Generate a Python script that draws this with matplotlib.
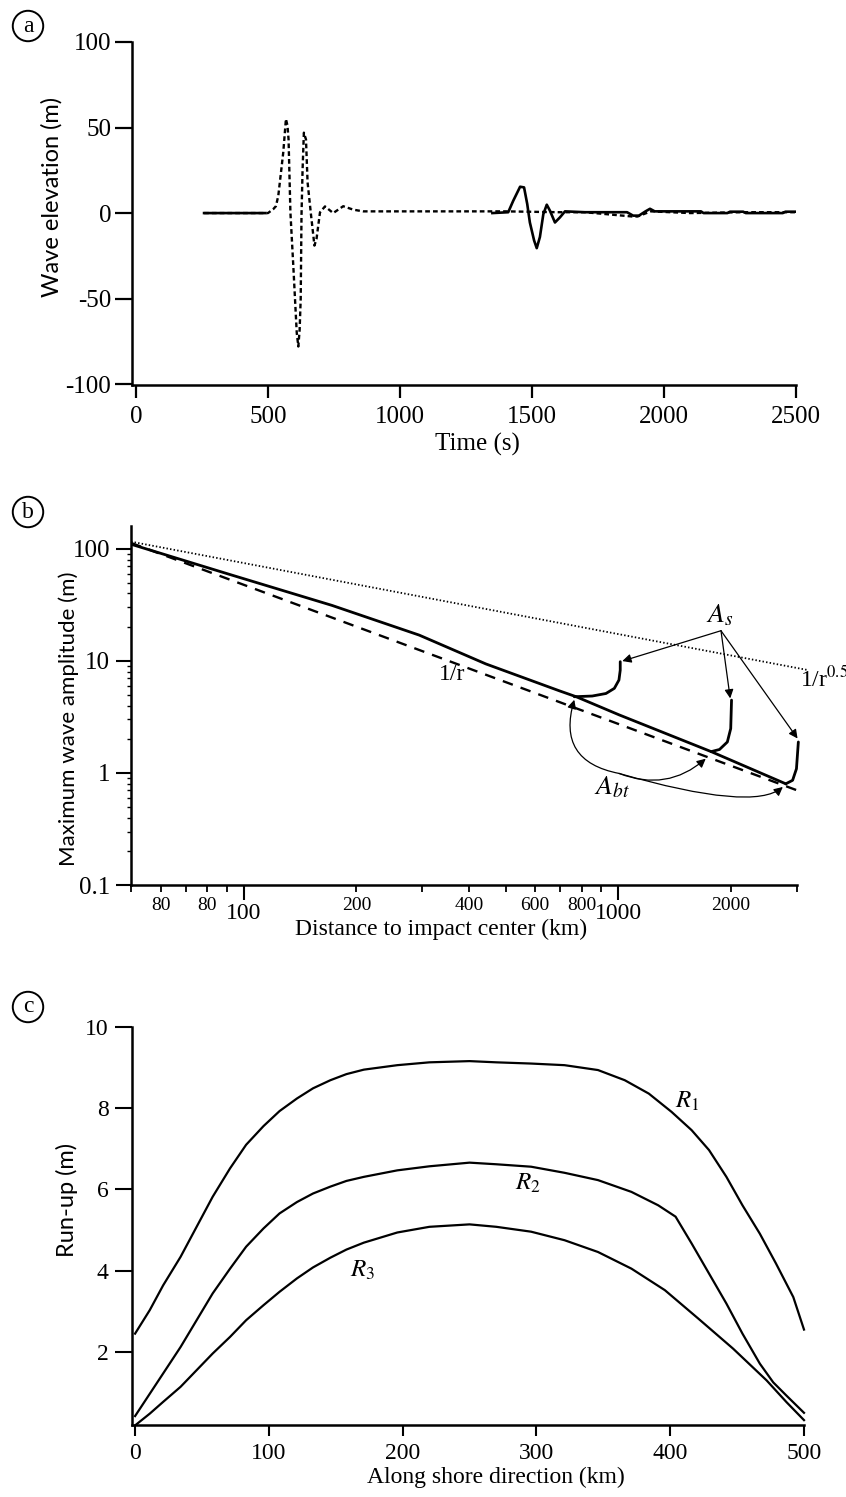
import numpy as np
import matplotlib
matplotlib.use("Agg")
import matplotlib.pyplot as plt
from matplotlib.ticker import FixedLocator, FixedFormatter, LogLocator, NullFormatter

plt.rcParams["font.family"] = ["Liberation Serif", "DejaVu Serif"]
plt.rcParams["mathtext.fontset"] = "stix"
plt.rcParams["axes.unicode_minus"] = False

SANS = ["Lato", "DejaVu Sans"]

# --- (a) wave elevation records ---
t_solid = [258, 490, np.nan, 1350, 1410, 1429, 1455, 1470, 1482, 1492, 1508, 1518, 1530,
           1543, 1556, 1568, 1587, 1606, 1625, 1700, 1860, 1883, 1905, 1930, 1947, 1965,
           2140, 2150, 2240, 2250, 2300, 2310, 2450, 2460, 2500]
eta_solid = [0, 0, np.nan, 0, 0.5, 7.2, 15.4, 15, 5.3, -5.5, -16, -20.5, -14,
             -0.6, 4.9, 1.4, -5.5, -2.5, 1, 0.5, 0.5, -1.5, -1.5, 1, 2.5, 1,
             1, 0, 0, 0.8, 0.8, 0, 0, 0.8, 0.8]
t_dash = [258, 500, 520, 530, 539, 548, 558, 568, 574, 578, 585, 596, 609, 615, 620, 624,
          627, 631, 636, 644, 650, 663, 676, 684, 697, 716, 747, 785, 823, 860, 1100,
          1400, 1600, 1700, 1880, 1900, 1950, 2100, 2300, 2500]
eta_dash = [0, 0, 2.3, 4, 10, 22, 35.6, 55, 51, 43, 0.4, -31, -70, -78, -68, -50,
            -1.4, 25, 47, 43, 18, -1, -19, -15, 0.4, 3.9, 0, 4, 2, 1, 1,
            1, 0.5, 0.5, -2, -2, 1, 0, 0.5, 0.5]

# --- (b) maximum amplitude vs distance ---
r_model = [50, 93, 172, 294, 443, 697, 772, 1005, 1770, 2800]
a_model = [110, 58.3, 31.3, 17, 9.4, 5.4, 4.79, 3.3, 1.55, 0.80]
r_inv = [50, 3000]
a_inv = [113, 0.70]
r_sqrt = [50, 3200]
a_sqrt = [116, 8.3]
hook1_r = [763, 852, 927, 976, 1004, 1012, 1012]
hook1_a = [4.79, 4.86, 5.12, 5.69, 6.75, 8.27, 9.84]
hook2_r = [1770, 1863, 1955, 1996, 2006]
hook2_a = [1.55, 1.62, 1.89, 2.49, 4.47]
hook3_r = [2800, 2920, 2990, 3025]
hook3_a = [0.80, 0.86, 1.09, 1.89]
as_origin = (1880, 18.6)
as_targets = [(1025, 9.97), (1990, 4.63), (3010, 2.03)]
abt_origin = (1005, 0.99)
abt_targets = [(763, 4.5), (1712, 1.34), (2750, 0.75)]

# --- (c) run-up along shore ---
x_r1 = [0, 11, 21, 34, 46, 58, 71, 83, 96, 108, 121, 133, 146, 158, 171, 196, 220, 250,
        270, 296, 321, 346, 366, 384, 401, 416, 429, 442, 454, 467, 479, 492, 500]
runup_r1 = [2.45, 3.03, 3.64, 4.34, 5.08, 5.82, 6.52, 7.1, 7.56, 7.93, 8.24, 8.49, 8.69,
            8.84, 8.95, 9.06, 9.13, 9.16, 9.13, 9.10, 9.06, 8.94, 8.69, 8.36, 7.91, 7.46,
            6.97, 6.31, 5.61, 4.91, 4.18, 3.35, 2.55]
x_r2 = [0, 11, 21, 34, 46, 58, 71, 83, 96, 108, 121, 133, 146, 158, 171, 196, 220, 250,
        270, 296, 321, 346, 371, 391, 404, 416, 429, 442, 454, 467, 477, 487, 500]
runup_r2 = [0.42, 0.97, 1.47, 2.12, 2.78, 3.44, 4.05, 4.59, 5.04, 5.41, 5.69, 5.90, 6.07,
            6.21, 6.31, 6.47, 6.57, 6.66, 6.62, 6.56, 6.41, 6.23, 5.94, 5.61, 5.33, 4.67,
            3.93, 3.19, 2.45, 1.71, 1.25, 0.92, 0.50]
x_r3 = [0, 11, 21, 34, 46, 58, 71, 83, 96, 108, 121, 133, 146, 158, 171, 196, 220, 250,
        270, 296, 321, 346, 371, 396, 421, 447, 472, 487, 500]
runup_r3 = [0.19, 0.48, 0.77, 1.14, 1.55, 1.96, 2.37, 2.78, 3.15, 3.48, 3.81, 4.08, 4.32,
            4.52, 4.69, 4.94, 5.08, 5.14, 5.08, 4.96, 4.75, 4.46, 4.05, 3.52, 2.82, 2.08,
            1.30, 0.76, 0.32]

W, H = 846, 1497
fig = plt.figure(figsize=(W / 100, H / 100), dpi=100)


def box(l, r, t, b):
    return [l / W, 1 - b / H, (r - l) / W, (b - t) / H]


def style(ax):
    for s in ("top", "right"):
        ax.spines[s].set_visible(False)
    for s in ("left", "bottom"):
        ax.spines[s].set_linewidth(1.8)


def circled(x, y, s):
    fig.text(x / W, 1 - y / H, s, ha="center", va="center", fontsize=17,
             bbox=dict(boxstyle="circle,pad=0.2", fc="white", ec="black", lw=1.4))


# (a)
ax = fig.add_axes(box(132, 796, 42, 385))
style(ax)
ax.plot(t_dash, eta_dash, color="black", lw=1.7, dashes=(2, 1.3))
ax.plot(t_solid, eta_solid, color="black", lw=1.9)
ax.set_xlim(-15, 2500)
ax.set_ylim(-100.5, 100)
ax.set_xticks([0, 500, 1000, 1500, 2000, 2500])
ax.set_yticks([-100, -50, 0, 50, 100])
ax.tick_params(direction="out", length=9, width=1.6, labelsize=18, pad=6)
ax.tick_params(axis="y", length=12, pad=3)
ax.set_xlabel("Time (s)", fontsize=18)
ax.xaxis.set_label_coords(0.52, -0.14)
ax.set_ylabel("Wave elevation (m)", fontsize=17, family=SANS)
ax.yaxis.set_label_coords(-0.105, 0.547)
circled(28, 26, "a")

# (b)
ax = fig.add_axes(box(131, 797, 526, 885))
style(ax)
ax.set_xscale("log")
ax.set_yscale("log")
ax.plot(r_sqrt, a_sqrt, color="black", lw=1.3, dashes=(0.8, 1.2), clip_on=False)
ax.plot(r_inv, a_inv, color="black", lw=1.7, dashes=(4.5, 3.5))
ax.plot(r_model, a_model, color="black", lw=2.0)
for hr, ha_ in ((hook1_r, hook1_a), (hook2_r, hook2_a), (hook3_r, hook3_a)):
    ax.plot(hr, ha_, color="black", lw=2.0, clip_on=False, solid_capstyle="round")
ap = dict(arrowstyle="-|>", color="black", lw=0.9, mutation_scale=13, shrinkA=0, shrinkB=0)
for tgt in as_targets:
    ax.annotate("", xy=tgt, xytext=as_origin, arrowprops=ap, annotation_clip=False)
conns = ["arc3,rad=-0.55", "arc3,rad=0.3", "angle3,angleA=-16,angleB=40"]
for tgt, cs in zip(abt_targets, conns):
    ax.annotate("", xy=tgt, xytext=abt_origin, arrowprops=dict(ap, connectionstyle=cs),
                annotation_clip=False)
ax.text(1870, 19.5, "$A_s$", fontsize=20, ha="center", va="bottom")
ax.text(960, 0.74, "$A_{bt}$", fontsize=20, ha="center", va="center")
ax.text(360, 7.5, "1/r", fontsize=17, ha="center", va="center")
ax.text(3050, 6.9, "1/r$^{0.5}$", fontsize=17, ha="left", va="center", clip_on=False)
ax.set_xlim(50, 3000)
ax.set_ylim(0.1, 160)
ax.xaxis.set_major_locator(FixedLocator([100, 1000]))
ax.xaxis.set_major_formatter(FixedFormatter(["100", "1000"]))
minor_x = [50, 60, 70, 80, 90, 200, 300, 400, 500, 600, 700, 800, 900, 2000, 3000]
minor_lab = ["", "80", "", "80", "", "200", "", "400", "", "600", "", "800", "", "2000", ""]
ax.xaxis.set_minor_locator(FixedLocator(minor_x))
ax.xaxis.set_minor_formatter(FixedFormatter(minor_lab))
ax.yaxis.set_major_locator(FixedLocator([0.1, 1, 10, 100]))
ax.yaxis.set_major_formatter(FixedFormatter(["0.1", "1", "10", "100"]))
ax.yaxis.set_minor_locator(LogLocator(subs=np.arange(2, 10)))
ax.yaxis.set_minor_formatter(NullFormatter())
ax.tick_params(axis="x", which="major", direction="out", length=11, width=1.5, labelsize=17, pad=2)
ax.tick_params(axis="x", which="minor", direction="out", length=5, width=1.3, labelsize=14, pad=4)
ax.tick_params(axis="y", which="major", direction="out", length=11, width=1.5, labelsize=18, pad=4)
ax.tick_params(axis="y", which="minor", direction="out", length=3, width=1.0)
ax.set_xlabel("Distance to impact center (km)", fontsize=17)
ax.xaxis.set_label_coords(0.465, -0.095)
ax.set_ylabel("Maximum wave amplitude (m)", fontsize=16, family=SANS)
ax.yaxis.set_label_coords(-0.078, 0.464)
circled(28, 512, "b")

# (c)
ax = fig.add_axes(box(132, 804, 1027, 1425))
style(ax)
for xs, ys in ((x_r1, runup_r1), (x_r2, runup_r2), (x_r3, runup_r3)):
    ax.plot(xs, ys, color="black", lw=1.6, clip_on=False)
ax.text(413, 8.16, r"$\mathit{R}_{\mathit{1}}$", fontsize=18, ha="center", va="center")
ax.text(294, 6.15, r"$\mathit{R}_{\mathit{2}}$", fontsize=18, ha="center", va="center")
ax.text(170, 4.0, r"$\mathit{R}_{\mathit{3}}$", fontsize=18, ha="center", va="center")
ax.set_xlim(-2.3, 500)
ax.set_ylim(0.2, 10)
ax.set_xticks([0, 100, 200, 300, 400, 500])
ax.set_yticks([2, 4, 6, 8, 10])
ax.tick_params(direction="out", length=8, width=1.5, labelsize=17, pad=5)
ax.tick_params(axis="y", length=12)
ax.set_xlabel("Along shore direction (km)", fontsize=17)
ax.xaxis.set_label_coords(0.542, -0.105)
ax.set_ylabel("Run-up (m)", fontsize=17, family=SANS)
ax.yaxis.set_label_coords(-0.08, 0.565)
circled(28, 1007, "c")

fig.savefig("out.png", dpi=100)
